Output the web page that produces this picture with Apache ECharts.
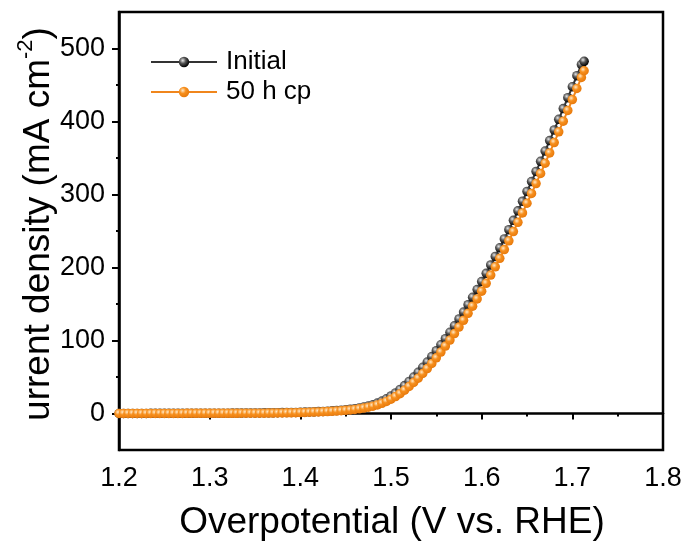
<!DOCTYPE html>
<html>
<head>
<meta charset="utf-8">
<script src="https://cdn.jsdelivr.net/npm/echarts@6/dist/echarts.min.js"></script>
<style>html,body{margin:0;padding:0;background:#fff;}#c{width:688px;height:551px;}</style>
</head>
<body>
<div id="c"></div>
<script>
// Potential (V vs. RHE)
const voltage = [
1.200,1.205,1.210,1.215,1.220,1.225,1.230,1.235,1.240,1.245,
1.250,1.255,1.260,1.265,1.270,1.275,1.280,1.285,1.290,1.295,
1.300,1.305,1.310,1.315,1.320,1.325,1.330,1.335,1.340,1.345,
1.350,1.355,1.360,1.365,1.370,1.375,1.380,1.385,1.390,1.395,
1.400,1.405,1.410,1.415,1.420,1.425,1.430,1.435,1.440,1.445,
1.450,1.455,1.460,1.465,1.470,1.475,1.480,1.485,1.490,1.495,
1.500,1.505,1.510,1.515,1.520,1.525,1.530,1.535,1.540,1.545,
1.550,1.555,1.560,1.565,1.570,1.575,1.580,1.585,1.590,1.595,
1.600,1.605,1.610,1.615,1.620,1.625,1.630,1.635,1.640,1.645,
1.650,1.655,1.660,1.665,1.670,1.675,1.680,1.685,1.690,1.695,
1.700,1.705,1.710,1.713
];
// Current density (mA cm^-2), initial
const initialJ = [
0.0,0.0,0.1,0.1,0.1,0.1,0.1,0.2,0.2,0.2,
0.2,0.2,0.3,0.3,0.3,0.3,0.3,0.4,0.4,0.4,
0.4,0.5,0.5,0.5,0.5,0.6,0.6,0.6,0.7,0.7,
0.8,0.8,0.9,0.9,1.0,1.1,1.2,1.3,1.4,1.5,
1.7,1.9,2.1,2.3,2.6,2.9,3.2,3.6,4.0,4.5,
5.1,5.8,6.6,7.6,8.8,10.2,12.0,14.3,17.0,20.2,
24.0,28.2,33.0,38.2,44.0,50.0,56.5,63.3,70.5,78.0,
86.0,94.2,102.5,111.3,120.2,129.5,139.0,149.0,159.2,169.8,
180.8,192.0,203.5,215.2,227.0,239.2,251.8,264.6,277.6,290.8,
304.2,317.8,331.6,345.5,359.6,373.9,388.4,403.0,417.7,432.6,
447.6,462.8,478.0,482.5
];
// Current density (mA cm^-2), after 50 h chronopotentiometry
const after50hJ = [
0.0,0.0,0.0,0.0,0.0,0.0,0.0,0.1,0.1,0.1,
0.1,0.1,0.1,0.1,0.1,0.2,0.2,0.2,0.2,0.2,
0.2,0.3,0.3,0.3,0.3,0.3,0.3,0.4,0.4,0.4,
0.4,0.4,0.5,0.6,0.6,0.7,0.8,0.9,1.0,1.1,
1.3,1.5,1.7,1.9,2.1,2.4,2.7,3.0,3.4,3.8,
4.3,4.9,5.6,6.4,7.4,8.6,10.0,11.8,14.0,16.6,
19.6,23.2,27.2,32.0,37.0,42.6,48.4,54.8,61.6,68.6,
76.2,84.2,92.4,100.6,109.5,118.4,127.6,137.2,147.0,157.0,
167.6,178.4,189.6,201.0,212.6,224.5,236.6,249.2,261.9,274.8,
288.0,301.4,315.0,328.8,342.8,356.9,371.2,385.8,400.4,415.2,
430.1,445.2,460.4,469.5
];
const seriesNames = ['Initial', '50 h cp'];
const yLabelValues = [0, 100, 200, 300, 400, 500];
const yMinorValues = [50, 150, 250, 350, 450];

const FONT = '"Liberation Sans", Arial, sans-serif';
function pairs(xs, ys) { return xs.map((x, i) => [x, ys[i]]); }
function sphere(light, mid, dark) {
  return { type: 'radial', x: 0.38, y: 0.35, r: 0.65,
    colorStops: [{offset: 0, color: light}, {offset: 0.45, color: mid}, {offset: 1, color: dark}] };
}

const chart = echarts.init(document.getElementById('c'), null, {renderer: 'canvas'});
chart.setOption({
  animation: false,
  backgroundColor: '#fff',
  grid: { left: 119, right: 25, top: 12, bottom: 101, show: true, borderColor: '#000', borderWidth: 2.5, containLabel: false },
  legend: {
    orient: 'vertical', left: 150, top: 49, padding: 0, itemWidth: 66, itemHeight: 13, itemGap: 4,
    textStyle: { fontFamily: FONT, fontSize: 26, color: '#000', padding: [0,0,0,4] },
    data: seriesNames
  },
  xAxis: {
    type: 'value', min: 1.2, max: 1.8, interval: 0.1,
    axisLine: { lineStyle: { color: '#000', width: 2.5 } },
    axisTick: { length: 6, lineStyle: { color: '#000', width: 2 } },
    minorTick: { show: true, splitNumber: 2, length: 3, lineStyle: { color: '#000', width: 2 } },
    splitLine: { show: false },
    axisLabel: { fontFamily: FONT, fontSize: 27, color: '#000', margin: 15, formatter: v => v.toFixed(1) }
  },
  yAxis: [{
    type: 'value', min: -50, max: 550, position: 'left',
    axisLine: { show: true, lineStyle: { color: '#000', width: 2.5 } },
    axisTick: { show: true, length: 7, customValues: yLabelValues, lineStyle: { color: '#000', width: 2 } },
    axisLabel: { fontFamily: FONT, fontSize: 27, color: '#000', margin: 14, customValues: yLabelValues },
    splitLine: { show: false }
  }, {
    type: 'value', min: -50, max: 550, position: 'left', offset: 0,
    axisLine: { show: false },
    axisTick: { show: true, length: 3, customValues: yMinorValues, lineStyle: { color: '#000', width: 2 } },
    axisLabel: { show: false },
    splitLine: { show: false }
  }],
  graphic: [{
    type: 'text', x: 392, y: 523,
    style: { text: 'Overpotential (V vs. RHE)', fontFamily: FONT, fontSize: 37, fill: '#000', align: 'center', verticalAlign: 'middle' }
  }, {
    type: 'text', x: 36, y: 224, rotation: Math.PI / 2,
    style: {
      text: '{m|urrent density (mA cm}{s|-2}{m|)}',
      align: 'center', verticalAlign: 'middle',
      rich: {
        m: { fontFamily: FONT, fontSize: 37, fill: '#000', color: '#000', lineHeight: 42, verticalAlign: 'bottom' },
        s: { fontFamily: FONT, fontSize: 22, fill: '#000', color: '#000', lineHeight: 42, verticalAlign: 'top' }
      }
    }
  }],
  series: [{
    name: seriesNames[0], type: 'line', data: pairs(voltage, initialJ),
    symbol: 'circle', symbolSize: 9.5, showSymbol: true,
    lineStyle: { color: '#333', width: 2 },
    itemStyle: { color: sphere('#e8e8e8', '#555', '#000'), borderWidth: 0 },
    z: 2
  }, {
    name: seriesNames[1], type: 'line', data: pairs(voltage, after50hJ),
    symbol: 'circle', symbolSize: 9.5, showSymbol: true,
    lineStyle: { color: '#f0861c', width: 2 },
    itemStyle: { color: sphere('#ffe9c8', '#f7901e', '#e87a0c'), borderWidth: 0 },
    z: 3
  }]
});
</script>
</body>
</html>
